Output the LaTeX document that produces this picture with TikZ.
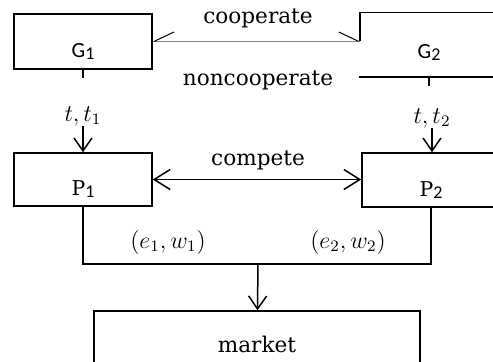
\documentclass[tikz,border=0pt]{standalone}
\usepackage{fontspec}
\setmainfont{DejaVu Serif}
\newfontfamily\gfont{Carlito}
\usetikzlibrary{arrows.meta}

\newcommand{\lowsub}[1]{\raisebox{-1.2pt}{\gfont\fontsize{9}{10}\selectfont #1}}

\tikzset{
  box/.style={draw, line width=.75pt, minimum width=69pt, text height=16pt, text depth=0pt, inner sep=0pt},
  flow/.style={line width=.75pt, -{Straight Barb[length=6.5pt,width=9pt]}},
  lbl/.style={font=\fontsize{10.8}{13}\selectfont, inner sep=0pt},
  mth/.style={font=\fontsize{11.6}{14}\selectfont, inner sep=0pt}
}

\begin{document}
\begin{tikzpicture}[x=.5pt,y=-.5pt]
\useasboundingbox (0,0) rectangle (493,361);
\clip (0,0) rectangle (493,361);

% the two governments
\node[box, minimum height=27.5pt] (g1) at (83,41.5) {\gfont\fontsize{10.8}{13}\selectfont G\lowsub{1}};
\node[box, draw=none, minimum height=31.5pt, text height=14pt] (g2) at (429,44.5) {\gfont\fontsize{10.8}{13}\selectfont G\lowsub{2}};
\coordinate (g2in) at (360,41);
\draw[line width=.75pt] (g2in) |- (g2.north east); % only the corner of G2 shows
\draw[line width=.75pt] (g2.south west) -- (g2.south east);
\draw[line width=.75pt] (g1.south) -- ++(0,8);
\draw[line width=.75pt] (g2.south) -- ++(0,9);

\draw[gray, line width=.5pt,
  {Straight Barb[length=9.5pt,width=9pt,harpoon,swap,black]}-{Straight Barb[length=9.5pt,width=9pt,harpoon,black]}]
  (g1.east |- g2in) -- (g2in);
\node[lbl] (coop) at (258,18) {cooperate};
\node[lbl] (noncoop) at (258,80) {noncooperate};

% the two players
\node[mth] (tt1) at (83,116) {$t,t_1$};
\node[mth] (tt2) at (432,118) {$t,t_2$};
\node[box, minimum height=26.5pt] (p1) at (83,179.5) {\fontsize{10.2}{12}\selectfont P\lowsub{1}};
\node[box, minimum height=27pt] (p2) at (431,180) {\fontsize{10.2}{12}\selectfont P\lowsub{2}};
\draw[flow] (tt1) -- (p1);
\draw[flow] (tt2) -- (tt2 |- p2.north);

\draw[line width=.75pt, {Straight Barb[length=8pt,width=10pt]}-{Straight Barb[length=8pt,width=10pt]}]
  (p1.east) -- (p1.east -| p2.west);
\node[lbl] (comp) at (258,160) {compete};

% both go to the market
\coordinate (join) at (258,264);
\draw[line width=.75pt] (p1.south) |- (join) -| (p2.south);
\node[mth] (ew1) at (168,242) {$(e_1,w_1)$};
\node[mth] (ew2) at (348,242) {$(e_2,w_2)$};
\node[box, minimum width=163pt, minimum height=42pt, text height=6pt, text depth=7pt] (mkt) at (257,353) {\fontsize{10.8}{13}\selectfont market};
\draw[flow] (join) -- (mkt);

\end{tikzpicture}
\end{document}
